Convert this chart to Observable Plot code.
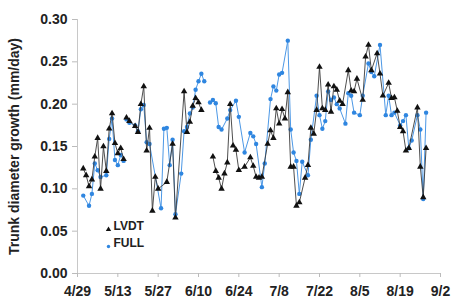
<!DOCTYPE html>
<html><head><meta charset="utf-8">
<script src="https://cdn.jsdelivr.net/npm/d3@7"></script>
<script src="https://cdn.jsdelivr.net/npm/@observablehq/plot@0.6"></script>
<style>
body{margin:0;background:#fff;}
#chart{width:452px;height:303px;position:relative;}
</style></head><body><div id="chart"></div>
<script>
const YEAR = 2007;
const xTickLabels = ["4/29","5/13","5/27","6/10","6/24","7/8","7/22","8/5","8/19","9/2"];
const yTicks = [0, 0.05, 0.10, 0.15, 0.20, 0.25, 0.30];
const yLabel = "Trunk diameter growth (mm/day)";
const seriesNames = ["LVDT", "FULL"];

// null = break in the line
const lvdtDates = ["5/1","5/2","5/3","5/4","5/5","5/6","5/7","5/8","5/9","5/10","5/11","5/12","5/13","5/14","5/15",null,
  "5/16","5/17","5/19","5/20","5/21","5/22","5/23","5/24","5/25","5/26","5/27","5/30","6/1","6/2","6/5","6/6","6/7","6/8","6/9","6/10","6/11",null,
  "6/15","6/16","6/17","6/18","6/19","6/20","6/21","6/22","6/23","6/24","6/26","6/28","6/29","6/30","7/1","7/2","7/4","7/5","7/6","7/7","7/8","7/9","7/10","7/11","7/12","7/13","7/14","7/15",
  "7/17","7/18","7/19","7/20","7/21","7/22","7/23","7/24","7/25","7/26","7/27","7/28","7/29","7/30","8/1","8/2","8/3","8/4","8/6","8/7","8/8","8/9","8/11","8/12","8/13","8/15","8/16","8/17","8/18","8/19","8/20","8/21","8/22","8/25","8/26","8/27","8/28"];
const lvdtValues = [0.124,0.116,0.103,0.111,0.138,0.160,0.100,0.150,0.121,0.171,0.189,0.154,0.142,0.148,0.135,null,
  0.184,0.180,0.174,0.167,0.200,0.221,0.145,0.172,0.074,0.114,0.100,0.108,0.153,0.066,0.215,0.167,0.179,0.198,0.207,0.202,0.193,null,
  0.138,0.121,0.113,0.100,0.118,0.131,0.200,0.151,0.146,0.122,0.126,0.137,0.127,0.114,0.113,0.114,0.153,0.169,0.160,0.195,0.177,0.194,0.183,0.214,0.126,0.126,0.080,0.084,
  0.113,0.128,0.172,0.165,0.193,0.244,0.195,0.193,0.223,0.191,0.221,0.217,0.204,0.200,0.240,0.216,0.215,0.230,0.205,0.256,0.270,0.240,0.260,0.236,0.210,0.225,0.207,0.208,0.192,0.173,0.168,0.145,0.148,0.196,0.126,0.090,0.148];

const fullDates = ["5/1","5/3","5/4","5/5","5/6","5/7","5/9","5/10","5/11","5/12","5/13","5/14","5/15",null,
  "5/16","5/17","5/19","5/20","5/21","5/22","5/23","5/24","5/28","5/29","5/30","5/31","6/1","6/2","6/4","6/5","6/6","6/7","6/8","6/9","6/10","6/11","6/12",null,
  "6/14","6/15","6/16","6/17","6/18","6/20","6/21","6/23","6/24","6/26","6/28","6/29","6/30","7/2","7/3","7/5","7/6","7/7","7/8","7/9","7/11","7/12","7/13","7/14","7/15","7/16",
  "7/18","7/19","7/21","7/22","7/23","7/24","7/25","7/26","7/27","7/28","7/29","7/31","8/1","8/2","8/3","8/5","8/6","8/8","8/9","8/10","8/12","8/14","8/15","8/16","8/17","8/19","8/20","8/21","8/22","8/23","8/25","8/26","8/27","8/28"];
const fullValues = [0.092,0.080,0.094,0.130,0.122,0.114,0.116,0.159,0.183,0.134,0.128,0.140,0.133,null,
  0.182,0.178,0.175,0.168,0.194,0.199,0.155,0.153,0.077,0.171,0.172,0.128,0.158,0.070,0.118,0.168,0.173,0.189,0.196,0.217,0.227,0.236,0.227,null,
  0.202,0.205,0.201,0.173,0.170,0.183,0.193,0.204,0.185,0.143,0.166,0.162,0.153,0.102,0.130,0.206,0.221,0.216,0.235,0.237,0.275,0.170,0.143,0.133,0.094,0.132,
  0.116,0.158,0.210,0.187,0.171,0.180,0.215,0.205,0.208,0.200,0.195,0.177,0.213,0.210,0.190,0.187,0.210,0.248,0.238,0.233,0.270,0.187,0.210,0.187,0.190,0.175,0.180,0.187,0.148,0.157,0.187,0.170,0.088,0.190];

const parseMD = s => { const [m, d] = s.split("/").map(Number); return new Date(Date.UTC(YEAR, m - 1, d)); };
function build(dates, values) {
  const out = []; let last = null;
  dates.forEach((s, i) => {
    const date = s == null ? last : parseMD(s);
    out.push({date, value: values[i]});
    last = date;
  });
  return out;
}
const lvdt = build(lvdtDates, lvdtValues);
const full = build(fullDates, fullValues);
const xTicks = xTickLabels.map(parseMD);

const black = "#111";
const blue = "#2f86e0";
const font = "'Liberation Sans', Arial, sans-serif";

const chart = Plot.plot({
  width: 452, height: 303,
  marginLeft: 77, marginRight: 12, marginTop: 19, marginBottom: 30,
  style: {fontFamily: font, fontSize: "14px", fontWeight: "bold", color: "#222", background: "#fff", overflow: "visible"},
  x: {type: "utc", domain: [xTicks[0], xTicks[xTicks.length - 1]]},
  y: {domain: [0, 0.30]},
  marks: [
    Plot.ruleY([0], {stroke: "#c8c8c8"}),
    Plot.ruleX([xTicks[0]], {stroke: "#c8c8c8"}),
    Plot.axisY({ticks: yTicks, tickFormat: d3.format(".2f"), tickSize: 5, tickPadding: 5, label: null, stroke: "#bbb", fill: "#222", fontSize: 14}),
    Plot.axisX({ticks: xTicks, tickFormat: d3.utcFormat("%-m/%-d"), tickSize: 4, tickPadding: 9, label: null, stroke: "#bbb", fill: "#222", fontSize: 14}),
    Plot.text([yLabel], {frameAnchor: "left", dx: -63, rotate: -90, textAnchor: "middle", lineAnchor: "middle", fill: "#222", fontSize: 14, fontWeight: "bold"}),
    Plot.line(full, {x: "date", y: "value", stroke: "#4c98e6", strokeWidth: 1}),
    Plot.dot(full, {x: "date", y: "value", fill: blue, r: 2.2}),
    Plot.line(lvdt, {x: "date", y: "value", stroke: "#3a3a3a", strokeWidth: 0.9}),
    Plot.dot(lvdt, {x: "date", y: "value", fill: black, symbol: "triangle", r: 2.4}),
    Plot.dot([seriesNames[0]], {frameAnchor: "bottom-left", dx: 31, dy: -44, fill: black, symbol: "triangle", r: 2.0}),
    Plot.dot([seriesNames[1]], {frameAnchor: "bottom-left", dx: 31, dy: -27, fill: blue, r: 1.7}),
    Plot.text([seriesNames[0]], {frameAnchor: "bottom-left", dx: 36, dy: -44, text: d => d, textAnchor: "start", fill: "#222", fontSize: 12, fontWeight: "bold"}),
    Plot.text([seriesNames[1]], {frameAnchor: "bottom-left", dx: 36, dy: -27, text: d => d, textAnchor: "start", fill: "#222", fontSize: 12, fontWeight: "bold"})
  ]
});
document.getElementById("chart").appendChild(chart);
</script></body></html>
